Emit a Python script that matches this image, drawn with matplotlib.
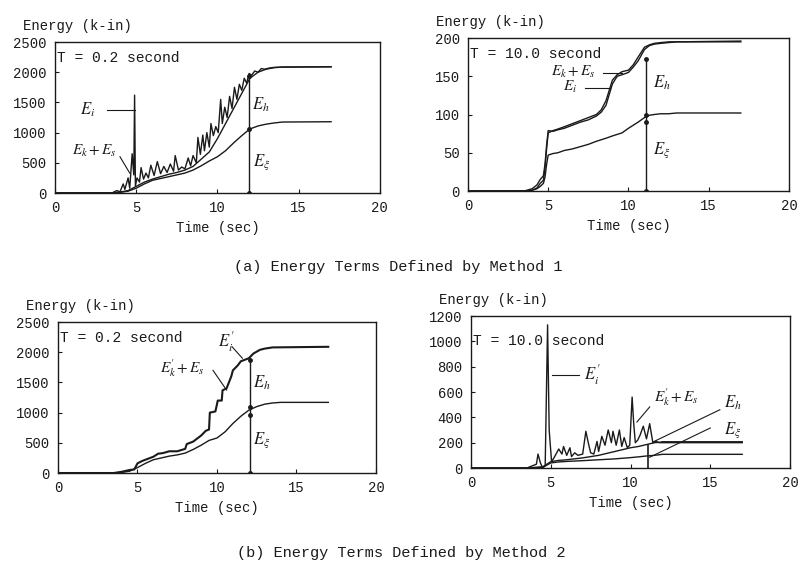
import matplotlib
matplotlib.use("Agg")
import matplotlib.pyplot as plt

plt.rcParams['font.family'] = ['Liberation Mono', 'DejaVu Sans Mono']
plt.rcParams['mathtext.fontset'] = 'stix'

INK = '#1a1a1a'

# ---- (a) Method 1, T = 0.2 s ----
tl_t_xi = [0, 3.5, 4, 4.5, 5, 5.5, 6, 6.5, 7, 7.5, 8, 8.5, 9, 9.5, 10, 10.5, 11, 11.5, 12, 12.5, 13, 13.5, 14, 17]
tl_xi = [0, 0, 10, 30, 80, 150, 210, 240, 270, 300, 330, 380, 450, 530, 600, 700, 830, 950, 1060, 1110, 1140, 1160, 1175, 1180]
tl_hxi = [0, 0, 15, 40, 110, 180, 230, 270, 310, 340, 380, 440, 560, 680, 900, 1150, 1400, 1650, 1900, 2000, 2050, 2075, 2085, 2090]
tl_t_i = [0, 3.5, 3.8, 4.0, 4.2, 4.3, 4.5, 4.6, 4.75, 4.85, 4.9, 4.95, 5.05, 5.2, 5.3, 5.45,
          5.6, 5.75, 5.9, 6.1, 6.3, 6.5, 6.7, 6.9, 7.1, 7.3, 7.4, 7.6, 7.8, 8.0, 8.2, 8.35,
          8.5, 8.7, 8.8, 8.95, 9.1, 9.2, 9.35, 9.5, 9.6, 9.75, 9.9, 10.05, 10.2, 10.3, 10.45,
          10.6, 10.75, 10.9, 11.05, 11.2, 11.35, 11.5, 11.65, 11.8, 11.95, 12.1, 12.3, 12.5,
          12.7, 12.9, 13.2, 13.5, 14, 17]
tl_i = [0, 0, 40, 20, 150, 60, 250, 80, 650, 300, 1620, 120, 250, 180, 420, 230,
        330, 250, 460, 290, 520, 320, 440, 340, 480, 360, 620, 380, 430, 400, 580, 450,
        620, 500, 920, 640, 960, 700, 1000, 760, 1150, 950, 1100, 1000, 1550, 1150, 1420,
        1250, 1600, 1400, 1750, 1550, 1800, 1700, 1900, 1820, 1980, 1950, 2020, 2000,
        2060, 2050, 2070, 2080, 2085, 2090]

# ---- (a) Method 1, T = 10.0 s ----
tr_t = [0, 3.5, 4, 4.3, 4.5, 4.7, 4.8, 4.9, 5, 5.3, 5.6, 6, 6.5, 7, 7.5, 8, 8.3, 8.6, 9, 9.3,
        9.6, 10, 10.3, 10.6, 11, 11.3, 11.6, 12, 12.5, 13, 17]
tr_i = [0, 0, 3, 8, 15, 20, 35, 60, 79, 78, 80, 82, 86, 90, 93, 98, 103, 112, 140, 150,
        152, 155, 162, 170, 185, 190, 192, 193, 194, 195, 196]
tr_ks = [0, 0, 1, 4, 10, 14, 30, 55, 76, 79, 81, 84, 88, 92, 96, 100, 106, 118, 145, 152,
         156, 158, 165, 175, 188, 191, 193, 194, 195, 195, 195]
tr_xi = [0, 0, 1, 3, 6, 10, 18, 35, 47, 49, 50, 53, 55, 58, 61, 65, 67, 69, 72, 74,
         76, 82, 86, 90, 96, 99, 100, 101, 101, 102, 102]

# ---- (b) Method 2, T = 0.2 s ----
bl_t_up = [0, 3.5, 4, 4.5, 4.8, 5, 5.3, 5.6, 6, 6.3, 6.6, 7, 7.5, 8, 8.1, 8.5, 9, 9.3, 9.5,
           9.55, 9.9, 10.05, 10.3, 10.35, 10.6, 10.9, 11, 11.3, 11.5, 11.8, 12, 12.3, 12.7,
           13, 13.5, 17]
bl_up = [0, 0, 20, 50, 60, 160, 200, 230, 270, 320, 330, 360, 360, 400, 480, 520, 620, 700, 720,
         1000, 1020, 1200, 1200, 1370, 1400, 1600, 1700, 1780, 1850, 1880, 1900, 1980, 2040,
         2060, 2080, 2090]
bl_t_xi = [0, 3.5, 4, 4.5, 5, 5.5, 6, 6.5, 7, 7.5, 8, 8.5, 9, 9.5, 10, 10.5, 11, 11.5, 12, 12.5, 13, 13.5, 14, 17]
bl_xi = [0, 0, 10, 30, 90, 160, 220, 250, 280, 300, 330, 390, 460, 540, 580, 680, 820, 940, 1040, 1100, 1140, 1160, 1170, 1170]

# ---- (b) Method 2, T = 10.0 s ----
br_t_i = [0, 3.5, 3.9, 4.1, 4.2, 4.35, 4.5, 4.65, 4.8, 4.9, 5.05, 5.2, 5.5, 5.7, 5.8, 6.0,
          6.2, 6.3, 6.5, 6.7, 7.0, 7.2, 7.35, 7.5, 7.7, 7.9, 8.0, 8.2, 8.4, 8.6, 8.8, 8.9,
          9.1, 9.3, 9.45, 9.6, 9.8, 9.95, 10.1, 10.2, 10.3, 10.45, 10.6, 10.8, 11.0, 11.2,
          11.4, 11.6, 11.8, 12.0, 17]
br_i = [0, 0, 20, 30, 110, 40, 0, 20, 1130, 300, 50, 80, 150, 110, 170, 100,
        160, 90, 120, 100, 110, 290, 200, 120, 110, 210, 130, 250, 180, 300, 200, 290,
        180, 300, 170, 240, 160, 180, 560, 350, 200, 220, 260, 330, 230, 350,
        200, 210, 200, 200, 200]
br_t = [0, 3.5, 4.5, 5, 5.5, 6, 7, 8, 9, 10, 10.5, 11, 11.5, 12, 17]
br_hxi = [0, 0, 10, 50, 60, 65, 80, 100, 130, 160, 170, 185, 200, 205, 205]
br_xi = [0, 0, 5, 40, 48, 52, 58, 65, 72, 82, 88, 95, 100, 108, 108]

xticks = [0, 5, 10, 15, 20]
captions = ['(a) Energy Terms Defined by Method 1', '(b) Energy Terms Defined by Method 2']

fig = plt.figure(figsize=(8.02, 5.64), dpi=100)
ax_tl = fig.add_axes([0.0686, 0.6578, 0.405, 0.2677])
ax_tr = fig.add_axes([0.5835, 0.6613, 0.4002, 0.2713])
ax_bl = fig.add_axes([0.0723, 0.1613, 0.3965, 0.2677])
ax_br = fig.add_axes([0.5873, 0.1702, 0.3978, 0.2695])


def style(ax, ymax, ystep, title, title_y=0.87):
    ax.set_xlim(0, 20)
    ax.set_ylim(0, ymax)
    ax.set_xticks(xticks)
    ax.set_yticks(range(0, ymax + 1, ystep))
    ax.tick_params(direction='in', length=3, labelsize=10, colors=INK, pad=6)
    for s in ax.spines.values():
        s.set_linewidth(1.0)
        s.set_color(INK)
    ax.set_xlabel('Time (sec)', fontsize=10, labelpad=4, color=INK)
    ax.text(-0.1, 1.08, 'Energy (k-in)', transform=ax.transAxes, fontsize=10, color=INK)
    ax.text(0.005, title_y, title, transform=ax.transAxes, fontsize=10.5, color=INK)


def lab(ax, s, xy, size=12):
    ax.text(xy[0], xy[1], s, fontsize=size, ha='center', va='center', color=INK)


def leader(ax, x, y):
    ax.plot(x, y, color=INK, lw=0.8)


def vmark(ax, x, ys):
    ax.plot([x, x], [0, max(ys)], color=INK, lw=1.0)
    ax.plot([x] * len(ys), ys, 'o', color=INK, ms=2.5)


# top-left
style(ax_tl, 2500, 500, 'T = 0.2 second')
ax_tl.plot(tl_t_i, tl_i, color=INK, lw=1.0)
ax_tl.plot(tl_t_xi, tl_hxi, color=INK, lw=1.0)
ax_tl.plot(tl_t_xi, tl_xi, color=INK, lw=1.0)
vmark(ax_tl, 11.95, [0, 1060, 1940])
lab(ax_tl, '$E_i$', (2.0, 1380))
leader(ax_tl, [3.2, 4.9], [1375, 1375])
lab(ax_tl, '$E_k + E_s$', (2.4, 690), 11)
leader(ax_tl, [4.0, 4.6], [600, 330])
lab(ax_tl, '$E_h$', (12.7, 1460))
lab(ax_tl, r'$E_\xi$', (12.7, 510))

# top-right
style(ax_tr, 200, 50, 'T = 10.0 second')
ax_tr.plot(tr_t, tr_i, color=INK, lw=1.0)
ax_tr.plot(tr_t, tr_ks, color=INK, lw=1.0)
ax_tr.plot(tr_t, tr_xi, color=INK, lw=1.0)
vmark(ax_tr, 11.1, [0, 90, 100, 172])
lab(ax_tr, '$E_k + E_s$', (6.6, 155), 11)
leader(ax_tr, [8.4, 9.6], [154, 154])
lab(ax_tr, '$E_i$', (6.35, 136), 11)
leader(ax_tr, [7.3, 8.85], [135, 135])
lab(ax_tr, '$E_h$', (12.1, 141))
lab(ax_tr, r'$E_\xi$', (12.1, 54))

# bottom-left
style(ax_bl, 2500, 500, 'T = 0.2 second')
ax_bl.plot(bl_t_up, bl_up, color=INK, lw=1.5)
ax_bl.plot(bl_t_xi, bl_xi, color=INK, lw=1.0)
vmark(ax_bl, 12.1, [0, 960, 1090, 1870])
lab(ax_bl, "$E_i'$", (10.6, 2180))
leader(ax_bl, [10.95, 11.6], [2090, 1900])
lab(ax_bl, "$E_k' + E_s$", (7.8, 1740), 11)
leader(ax_bl, [9.75, 10.6], [1700, 1375])
lab(ax_bl, '$E_h$', (12.8, 1490))
lab(ax_bl, r'$E_\xi$', (12.8, 546))

# bottom-right
style(ax_br, 1200, 200, 'T = 10.0 second', title_y=0.81)
ax_br.plot(br_t_i, br_i, color=INK, lw=1.0)
ax_br.plot(br_t, br_hxi, color=INK, lw=1.0)
ax_br.plot(br_t, br_xi, color=INK, lw=1.0)
ax_br.plot([12, 17], [br_hxi[-1], br_hxi[-1]], color=INK, lw=1.2)
ax_br.plot([11.1, 11.1], [0, 180], color=INK, lw=1.2)
lab(ax_br, "$E_i'$", (7.6, 735))
leader(ax_br, [5.1, 6.8], [735, 735])
lab(ax_br, "$E_k' + E_s$", (12.9, 555), 11)
leader(ax_br, [11.2, 10.4], [482, 363])
lab(ax_br, '$E_h$', (16.4, 513))
leader(ax_br, [15.6, 11.4], [460, 205])
lab(ax_br, r'$E_\xi$', (16.4, 300))
leader(ax_br, [15.0, 11.2], [316, 85])

fig.text(0.497, 0.527, captions[0], ha='center', va='center', fontsize=11, color=INK)
fig.text(0.50, 0.02, captions[1], ha='center', va='center', fontsize=11, color=INK)

fig.savefig('out.png', dpi=100, facecolor='white')
